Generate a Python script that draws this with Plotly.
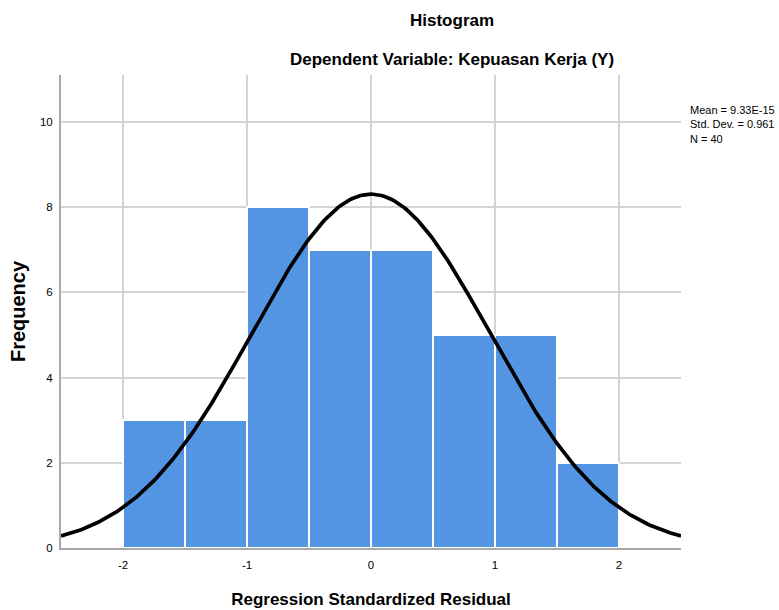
import numpy as np
import plotly.graph_objects as go

bin_centers = [-1.75, -1.25, -0.75, -0.25, 0.25, 0.75, 1.25, 1.75]
counts = [3, 3, 8, 7, 7, 5, 5, 2]
bin_width = 0.5
mean = 9.33e-15
std = 0.961
n = 40
x_ticks = [-2, -1, 0, 1, 2]
y_ticks = [0, 2, 4, 6, 8, 10]

xs = np.linspace(-2.5, 2.5, 301)
ys = n * bin_width * np.exp(-0.5 * ((xs - mean) / std) ** 2) / (std * np.sqrt(2 * np.pi))

L, R, T, B = 61, 98, 75, 62
W, H = 779, 610
pw = W - L - R
ph = H - T - B

def px(x):
    return (x - L) / pw

def py(y):
    return (H - B - y) / ph

fig = go.Figure()
fig.add_trace(go.Bar(x=bin_centers, y=counts, width=bin_width,
                     marker=dict(color="#5495E3", line=dict(color="white", width=2)),
                     showlegend=False))
fig.add_trace(go.Scatter(x=xs, y=ys, mode="lines", line=dict(color="black", width=3.7),
                         showlegend=False))

font = "Liberation Sans, Arial, sans-serif"
fig.update_layout(
    width=W, height=H,
    margin=dict(l=L, r=R, t=T, b=B, autoexpand=False),
    plot_bgcolor="white", paper_bgcolor="white",
    font=dict(family=font, color="black"),
    bargap=0,
    xaxis=dict(range=[-2.5, 2.5], tickvals=x_ticks, ticktext=[str(v) for v in x_ticks],
               showgrid=True, gridcolor="#d4d4d4", gridwidth=1.5, zeroline=False,
               showline=True, linecolor="#a8a8a8", linewidth=2, ticks="",
               tickfont=dict(size=11.5), ticklabelstandoff=5, automargin=False,
               title=dict(text="<b>Regression Standardized Residual</b>", font=dict(size=17), standoff=23)),
    yaxis=dict(range=[0, 11.1], tickvals=y_ticks, ticktext=[str(v) for v in y_ticks],
               showgrid=True, gridcolor="#d4d4d4", gridwidth=1.5, zeroline=False,
               showline=True, linecolor="#a8a8a8", linewidth=2, ticks="",
               tickfont=dict(size=11.5), ticklabelstandoff=4, automargin=False,
               title=dict(text="<b>Frequency</b>", font=dict(size=20), standoff=9)),
    annotations=[
        dict(text="<b>Histogram</b>", x=px(452), y=py(20), xref="paper", yref="paper",
             showarrow=False, xanchor="center", yanchor="middle", font=dict(size=17)),
        dict(text="<b>Dependent Variable: Kepuasan Kerja (Y)</b>", x=px(452), y=py(59),
             xref="paper", yref="paper", showarrow=False, xanchor="center", yanchor="middle",
             font=dict(size=17)),
        dict(text="Mean = 9.33E-15<br>Std. Dev. = 0.961<br>N = 40", x=px(688), y=py(102),
             xref="paper", yref="paper", showarrow=False, align="left", xanchor="left",
             yanchor="top", font=dict(size=11)),
    ],
)

fig.write_html("out.html", config={"displayModeBar": False},
               post_script="document.body.style.margin='0px';document.body.style.overflow='hidden';")
